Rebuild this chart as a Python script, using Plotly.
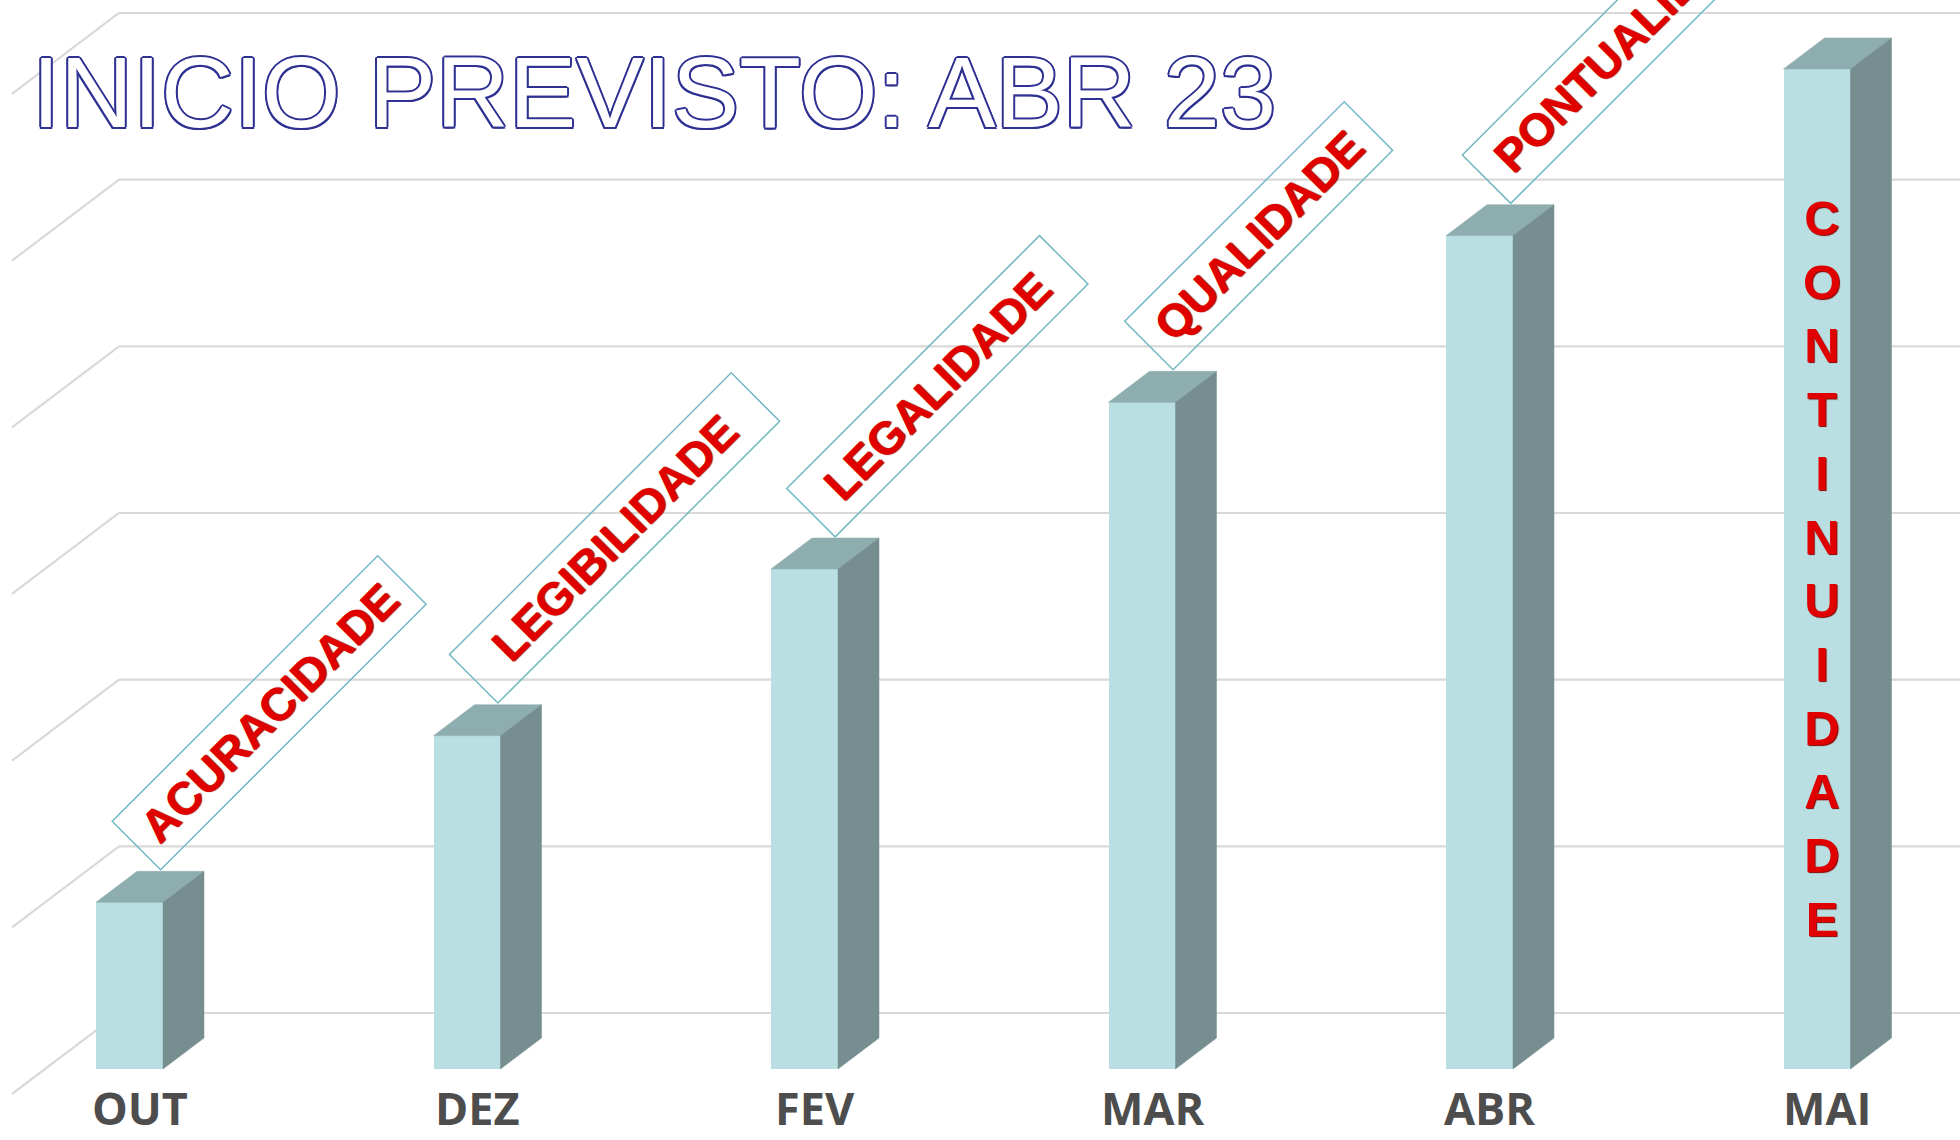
import plotly.graph_objects as go

# ---------------- data ----------------
months = ["OUT", "DEZ", "FEV", "MAR", "ABR", "MAI"]
values = [1, 2, 3, 4, 5, 6]
tags = ["ACURACIDADE", "LEGIBILIDADE", "LEGALIDADE", "QUALIDADE", "PONTUALIDADE"]
vertical_tag = "CONTINUIDADE"
grid_values = [0, 1, 2, 3, 4, 5, 6]
title_text = "INICIO PREVISTO: ABR 23"

# ---------------- geometry / style ----------------
W, H = 1960, 1140
X0_PX, STEP_PX = 129.5, 337.5      # first bar centre, spacing (px)
Y0_PX, UNIT_PX = 1069.0, 166.67    # base line, one unit (px)

bw = 67 / STEP_PX                  # bar width (x units)
ddx, ddy = 41 / STEP_PX, 31 / UNIT_PX      # bar depth
wdx, wdy = 74 / STEP_PX, 56 / UNIT_PX      # back wall offset from bar front
wall_left = (119 - X0_PX) / STEP_PX
front_left = (12 - X0_PX) / STEP_PX
side_drop = 81 / UNIT_PX

x_range = [(0 - X0_PX) / STEP_PX, (W - X0_PX) / STEP_PX]
y_range = [(Y0_PX - H) / UNIT_PX, Y0_PX / UNIT_PX]

FRONT = "#B9DFE2"
TOP = "#8EADAF"
SIDE = "#778E90"
GRID = "#D9D9D9"
RED = "#E00000"
BOX = "#74B8C2"
BLUE = "#2E3192"

box_len = [377, 400, 359, 312, 410]
box_h = 70
tag_fs = 46

fig = go.Figure()

# front faces
idx = list(range(len(months)))
fig.add_trace(go.Bar(x=idx, y=values, width=bw, marker=dict(color=FRONT, line=dict(width=0)),
                     hoverinfo="skip"))

# top and side faces
for i, v in zip(idx, values):
    xl, xr = i - bw / 2, i + bw / 2
    fig.add_trace(go.Scatter(
        x=[xl, xr, xr + ddx, xl + ddx, xl], y=[v, v, v + ddy, v + ddy, v],
        fill="toself", fillcolor=TOP, mode="lines", line=dict(color=TOP, width=0.5),
        hoverinfo="skip"))
    fig.add_trace(go.Scatter(
        x=[xr, xr + ddx, xr + ddx, xr, xr], y=[0, ddy, v + ddy, v, 0],
        fill="toself", fillcolor=SIDE, mode="lines", line=dict(color=SIDE, width=0.5),
        hoverinfo="skip"))

# wall gridlines
shapes = []
for g in grid_values:
    shapes.append(dict(type="line", xref="x", yref="y", layer="below",
                       x0=wall_left, y0=g + wdy, x1=x_range[1] + 1, y1=g + wdy,
                       line=dict(color=GRID, width=2.2)))
    shapes.append(dict(type="line", xref="x", yref="y", layer="below",
                       x0=front_left, y0=g + wdy - side_drop, x1=wall_left, y1=g + wdy,
                       line=dict(color=GRID, width=2.2)))

annotations = []
# rotated tag boxes, bottom corner resting on the back edge of the bar top
for i, (t, v) in enumerate(zip(tags, values)):
    L = box_len[i]
    xs = 0.7071 * (L / 2 - box_h / 2) - 10
    ys = 0.7071 * (L / 2 + box_h / 2)
    annotations.append(dict(
        x=i + ddx, y=v + ddy, xref="x", yref="y", text=t, showarrow=False,
        xanchor="center", yanchor="middle", xshift=xs, yshift=ys, textangle=-45,
        width=L - 11, height=box_h - 11, align="center", valign="middle",
        bordercolor=BOX, borderwidth=1.5, borderpad=4,
        font=dict(family="Liberation Sans, Arial", size=tag_fs, color=RED, weight="bold",
                  shadow="1px 1px 1px #8A0000")))

# vertical tag in last bar
annotations.append(dict(
    x=idx[-1], y=values[-1] / 2, xref="x", yref="y", text="<br>".join(vertical_tag),
    showarrow=False, xanchor="center", yanchor="middle", xshift=5, align="center",
    font=dict(family="Liberation Sans, Arial", size=49, color=RED, weight="bold",
              shadow="1px 1px 1px #8A0000")))

# month labels
for i, m in zip(idx, months):
    annotations.append(dict(
        x=i, y=0, xref="x", yref="y", text=m, showarrow=False, xanchor="center",
        yanchor="bottom", xshift=10, yshift=-71,
        font=dict(family="Open Sans, DejaVu Sans", size=45, color="#4D4D4D", weight="bold")))

# title (white text with blue outline)
outline = ", ".join(f"{dx}px {dy}px 0 {BLUE}" for dx, dy in
                    [(2, 0), (-2, 0), (0, 2), (0, -2), (1.5, 1.5), (-1.5, 1.5), (1.5, -1.5), (-1.5, -1.5)])
annotations.append(dict(
    x=30 / W, y=1 - 92 / H, xref="paper", yref="paper", text=title_text, showarrow=False,
    xanchor="left", yanchor="middle",
    font=dict(family="Liberation Sans, Arial", size=101, color="white", shadow=outline)))

fig.update_layout(
    width=W, height=H, margin=dict(l=0, r=0, t=0, b=0),
    paper_bgcolor="white", plot_bgcolor="white", showlegend=False,
    xaxis=dict(range=x_range, visible=False, fixedrange=True),
    yaxis=dict(range=y_range, visible=False, fixedrange=True),
    shapes=shapes, annotations=annotations, bargap=0,
)

fig.write_html("out.html", config={"displayModeBar": False},
               post_script="document.body.style.margin='0px';document.body.style.overflow='hidden';")
